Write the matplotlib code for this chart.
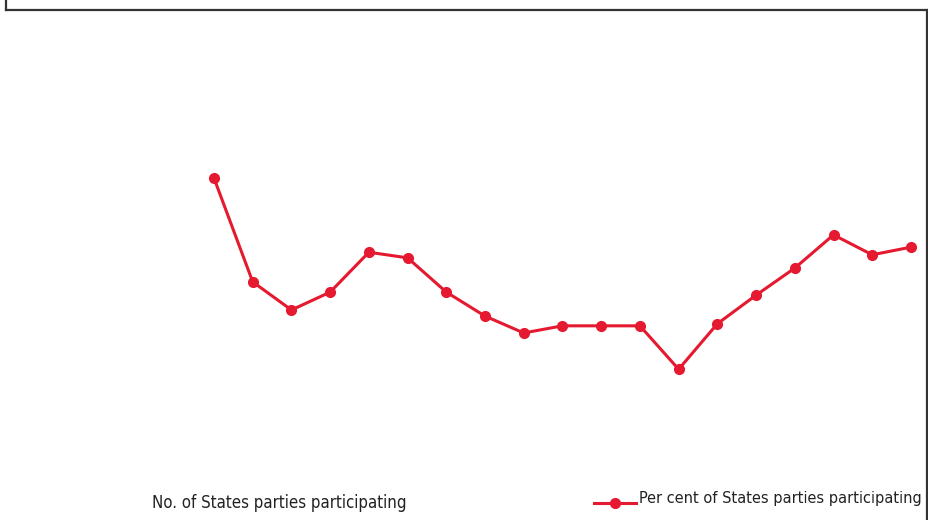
import matplotlib
matplotlib.use("Agg")
import matplotlib.pyplot as plt
from matplotlib.lines import Line2D

# per cent of States parties participating, one point per reporting round
rounds = list(range(19))
per_cent = [66.9, 46.6, 41.1, 44.6, 52.4, 51.3, 44.6, 39.9, 36.6, 38.0,
            38.0, 38.0, 29.5, 38.4, 44.0, 49.3, 55.8, 51.9, 53.4]
bar_label = "No. of States parties participating"
line_label = "Per cent of States parties participating"

RED = "#e5192f"
FRAME = "#333333"

fig = plt.figure(figsize=(9.29, 5.2), dpi=100)
ax = fig.add_axes([0, 0, 1, 1])
ax.plot(rounds, per_cent, color=RED, lw=2.2, marker="o", ms=7, zorder=3)
ax.set_xlim(-5.527, 18.466)
ax.set_ylim(0, 100 * 520 / 511)
ax.axis("off")

# chart frame (cropped at the bottom)
W, H = 929, 520
for xs, ys in [((6.5, 6.5), (0, 9.5)), ((6.5, 927), (9.5, 9.5)), ((927, 927), (9.5, 520))]:
    fig.add_artist(Line2D([x / W for x in xs], [1 - y / H for y in ys],
                          color=FRAME, lw=1.6, transform=fig.transFigure))

txt = dict(fontstretch="condensed", color="#222222", ha="left", va="center")
fig.text(152 / W, 1 - 503 / H, bar_label, fontsize=12.1, **txt)
fig.add_artist(Line2D([594 / W, 636 / W], [1 - 503 / H] * 2, color=RED, lw=2.2,
                      transform=fig.transFigure))
fig.add_artist(Line2D([615 / W], [1 - 503 / H], color=RED, marker="o", ms=7,
                      transform=fig.transFigure))
fig.text(639 / W, 1 - 499 / H, line_label, fontsize=11.7, **txt)

fig.savefig("out.png", dpi=100)
